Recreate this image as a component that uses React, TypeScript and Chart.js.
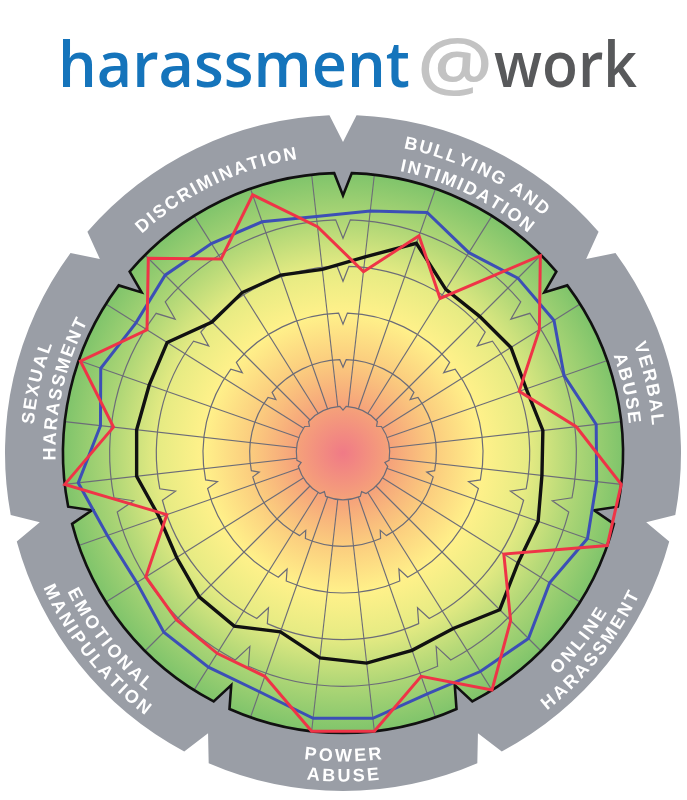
import React, { useEffect, useRef } from "react";
import { Chart, registerables } from "chart.js";

Chart.register(...registerables);

// ---- data ----
const titleParts = ["harassment", "@", "work"];

const categoryNames = [
  "Bullying and Intimidation",
  "Verbal Abuse",
  "Online Harassment",
  "Power Abuse",
  "Emotional Manipulation",
  "Sexual Harassment",
  "Discrimination",
];

const categoryLabelLines = [
  ["BULLYING AND", "INTIMIDATION"],
  ["VERBAL", "ABUSE"],
  ["ONLINE", "HARASSMENT"],
  ["POWER", "ABUSE"],
  ["EMOTIONAL", "MANIPULATION"],
  ["SEXUAL", "HARASSMENT"],
  ["DISCRIMINATION"],
];

const spokesPerCategory = 4;

const spokeLabels = categoryNames.flatMap((c) =>
  [1, 2, 3, 4].map((k) => `${c} ${k}`)
);

const seriesRed = [
  3.91, 4.93, 3.91, 5.98, 4.97, 4.0, 5.03, 6.0, 6.0, 4.07, 5.08, 6.0, 5.07, 6.0,
  6.0, 5.07, 5.07, 5.05, 4.99, 4.0, 6.0, 4.95, 5.96, 4.96, 5.9, 4.91, 5.86, 4.88,
];

const seriesBlue = [
  5.22, 5.46, 5.07, 5.3, 5.34, 5.02, 5.46, 5.47, 5.55, 5.23, 5.62, 5.53, 5.47,
  5.72, 5.72, 5.42, 5.42, 5.43, 5.22, 5.35, 5.71, 5.23, 5.5, 5.24, 5.39, 5.3,
  5.25, 5.1,
];

const seriesBlack = [
  4.23, 4.76, 4.14, 4.14, 4.25, 4.16, 4.31, 4.29, 4.43, 4.43, 4.75, 4.44, 4.48,
  4.53, 4.42, 4.06, 4.38, 4.36, 4.21, 4.17, 4.45, 4.45, 4.4, 4.45, 3.97, 4.06,
  4.04, 3.96,
];

const scaleMax = 6;

// ---- helpers ----
function boundaryAngles(s: any): number[] {
  const n = spokeLabels.length;
  const step = (Math.PI * 2) / n;
  const out: number[] = [];
  for (let c = 0; c < categoryNames.length; c++) {
    let a = s.getIndexAngle(c * spokesPerCategory) - step / 2;
    if (a < 0) a += Math.PI * 2;
    out.push(a);
  }
  return out;
}

function notchedPath(
  ctx: CanvasRenderingContext2D,
  cx: number,
  cy: number,
  r: number,
  bounds: number[],
  halfW: number,
  depth: number
) {
  const n = bounds.length;
  ctx.beginPath();
  for (let c = 0; c < n; c++) {
    const b0 = bounds[c];
    let b1 = bounds[(c + 1) % n];
    if (b1 <= b0) b1 += Math.PI * 2;
    const a0 = b0 + halfW;
    const a1 = b1 - halfW;
    ctx.arc(cx, cy, r, a0 - Math.PI / 2, a1 - Math.PI / 2);
    const rv = r - depth;
    ctx.lineTo(cx + rv * Math.sin(b1), cy - rv * Math.cos(b1));
  }
  ctx.closePath();
}

function drawArcText(
  ctx: CanvasRenderingContext2D,
  text: string,
  cx: number,
  cy: number,
  r: number,
  center: number,
  clockwise: boolean,
  spacing: number,
  capH: number
) {
  const widths = Array.from(text).map((ch) => ctx.measureText(ch).width);
  const total =
    widths.reduce((a, b) => a + b, 0) + spacing * (widths.length - 1);
  const span = total / r;
  let off = 0;
  const chars = Array.from(text);
  chars.forEach((ch, i) => {
    const w = widths[i];
    const mid = (off + w / 2) / r;
    const a = clockwise ? center - span / 2 + mid : center + span / 2 - mid;
    ctx.save();
    ctx.translate(cx + r * Math.sin(a), cy - r * Math.cos(a));
    ctx.rotate(clockwise ? a : a - Math.PI);
    ctx.fillText(ch, 0, capH / 2);
    ctx.restore();
    off += w + spacing;
  });
}

function drawFitted(
  ctx: CanvasRenderingContext2D,
  text: string,
  x: number,
  y: number,
  w: number,
  font: string,
  color: string
) {
  ctx.save();
  ctx.font = font;
  const m = ctx.measureText(text).width;
  ctx.translate(x, y);
  ctx.scale(w / m, 1);
  ctx.fillStyle = color;
  ctx.textAlign = "left";
  ctx.textBaseline = "alphabetic";
  ctx.fillText(text, 0, 0);
  ctx.restore();
}

function makeGradient(ctx: CanvasRenderingContext2D, cx: number, cy: number, R: number) {
  const g = ctx.createRadialGradient(cx, cy, 0, cx, cy, R);
  g.addColorStop(0, "#f07a86");
  g.addColorStop(0.16, "#f5a07a");
  g.addColorStop(0.33, "#fbcc7e");
  g.addColorStop(0.5, "#fff18a");
  g.addColorStop(0.66, "#e6eb83");
  g.addColorStop(0.83, "#aed676");
  g.addColorStop(1, "#7fc46b");
  return g;
}

const decorPlugin = {
  id: "decor",
  beforeDraw(chart: any) {
    const ctx: CanvasRenderingContext2D = chart.ctx;
    const s = chart.scales.r;
    const cx = s.xCenter;
    const cy = s.yCenter;
    const R = s.getDistanceFromCenterForValue(scaleMax);
    const bounds = boundaryAngles(s);
    ctx.save();
    ctx.fillStyle = "#ffffff";
    ctx.fillRect(0, 0, chart.width, chart.height);

    // title
    drawFitted(ctx, titleParts[0], 58, 87, 352, "600 64px 'Open Sans'", "#1574bb");
    drawFitted(ctx, titleParts[1], 417, 90, 76, "600 72px 'Open Sans'", "#c3c3c3");
    drawFitted(ctx, titleParts[2], 494, 87, 143, "600 64px 'Open Sans'", "#58595b");

    // grey ring
    notchedPath(ctx, cx, cy, R + 58, bounds, (2.3 * Math.PI) / 180, 27);
    ctx.fillStyle = "#9a9ea6";
    ctx.fill();

    // category labels
    ctx.fillStyle = "#ffffff";
    ctx.font = "bold 18px 'Liberation Sans'";
    ctx.textAlign = "center";
    ctx.textBaseline = "alphabetic";
    const capH = 13;
    categoryLabelLines.forEach((lines, c) => {
      let b1 = bounds[(c + 1) % bounds.length];
      if (b1 <= bounds[c]) b1 += Math.PI * 2;
      const center = (bounds[c] + b1) / 2;
      const deg = (center * 180) / Math.PI;
      const clockwise = !(deg > 100 && deg < 260);
      let radii: number[];
      if (lines.length === 1) radii = [R + 24];
      else radii = clockwise ? [R + 37, R + 14] : [R + 22, R + 42];
      lines.forEach((ln, i) => {
        drawArcText(ctx, ln, cx, cy, radii[i], center, clockwise, 2.2, capH);
      });
    });

    // gradient region
    notchedPath(ctx, cx, cy, R, bounds, (1.8 * Math.PI) / 180, R * 0.08);
    ctx.fillStyle = makeGradient(ctx, cx, cy, R);
    ctx.fill();
    ctx.restore();
  },
  beforeDatasetsDraw(chart: any) {
    const ctx: CanvasRenderingContext2D = chart.ctx;
    const s = chart.scales.r;
    const cx = s.xCenter;
    const cy = s.yCenter;
    const R = s.getDistanceFromCenterForValue(scaleMax);
    const bounds = boundaryAngles(s);
    ctx.save();
    // central disk covering spokes
    const r1 = s.getDistanceFromCenterForValue(1);
    const hw1 = Math.max((1.8 * Math.PI) / 180, 3 / r1);
    notchedPath(ctx, cx, cy, r1, bounds, hw1, r1 * 0.08);
    ctx.fillStyle = makeGradient(ctx, cx, cy, R);
    ctx.fill();
    // rings
    ctx.strokeStyle = "#6c6c78";
    ctx.lineWidth = 1.2;
    s.ticks.forEach((t: any) => {
      if (t.value <= 0 || t.value >= scaleMax) return;
      const rr = s.getDistanceFromCenterForValue(t.value);
      const hw = Math.max((1.8 * Math.PI) / 180, 3.2 / rr);
      notchedPath(ctx, cx, cy, rr, bounds, hw, rr * 0.08);
      ctx.stroke();
    });
    // outer boundary
    notchedPath(ctx, cx, cy, R, bounds, (1.8 * Math.PI) / 180, R * 0.08);
    ctx.strokeStyle = "#111111";
    ctx.lineWidth = 2.6;
    ctx.stroke();
    ctx.restore();
  },
};

export default function App() {
  const ref = useRef<HTMLCanvasElement | null>(null);
  useEffect(() => {
    document.body.style.margin = "0";
    if (!ref.current) return;
    const chart = new Chart(ref.current, {
      type: "radar",
      data: {
        labels: spokeLabels,
        datasets: [
          {
            label: "Red",
            data: seriesRed,
            borderColor: "#ef3447",
            borderWidth: 3,
            fill: false,
            pointRadius: 0,
            clip: false,
          } as any,
          {
            label: "Blue",
            data: seriesBlue,
            borderColor: "#3c4fb6",
            borderWidth: 3,
            fill: false,
            pointRadius: 0,
            clip: false,
          } as any,
          {
            label: "Black",
            data: seriesBlack,
            borderColor: "#111111",
            borderWidth: 3.4,
            fill: false,
            pointRadius: 0,
            clip: false,
          } as any,
        ],
      },
      options: {
        responsive: false,
        animation: false,
        layout: { padding: { left: 63, right: 64, top: 173, bottom: 67 } },
        plugins: {
          legend: { display: false },
          tooltip: { enabled: false },
        },
        elements: { line: { tension: 0, borderJoinStyle: "miter" } },
        scales: {
          r: {
            min: 0,
            max: scaleMax,
            startAngle: 360 / (spokeLabels.length * 2),
            ticks: { display: false, stepSize: 1 },
            grid: { display: false },
            angleLines: { display: true, color: "#6c6c78", lineWidth: 1.1 },
            pointLabels: { display: false },
          },
        },
      },
      plugins: [decorPlugin],
    });
    return () => chart.destroy();
  }, []);
  return (
    <div style={{ width: 687, height: 800, position: "relative" }}>
      <canvas ref={ref} width={687} height={800} style={{ display: "block" }} />
    </div>
  );
}
